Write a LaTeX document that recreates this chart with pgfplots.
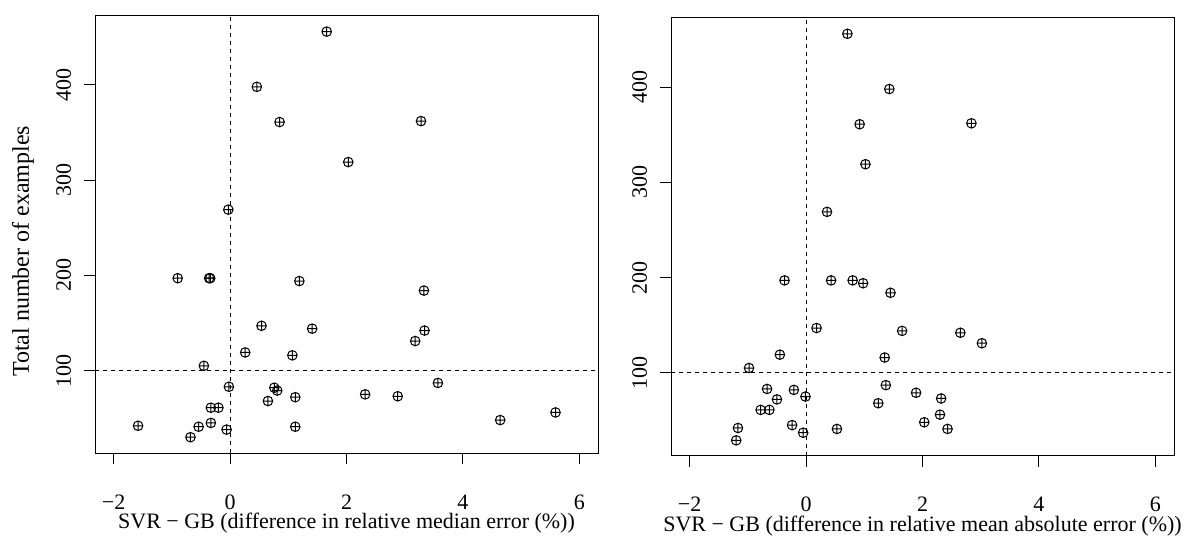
\documentclass[border=0pt]{standalone}
\usepackage{fontspec}
\setmainfont{Liberation Serif}
\usepackage{pgfplots}
\pgfplotsset{compat=1.18}
\pgfplotstableread{
x y
1.66 456
0.46 398
0.85 361
2.03 319
-0.03 269
3.28 362
-0.90 197
-0.36 197
-0.34 197
1.19 194
0.54 147
1.41 144
0.26 119
1.07 116
-0.45 105
-0.02 83
0.76 82
0.81 79
1.12 72
0.65 68
-0.33 61
-0.20 61
-1.58 42
-0.54 41
-0.33 45
1.12 41
-0.06 38
-0.68 30
3.33 184
3.34 142
3.18 131
3.57 87
2.32 75
2.88 73
5.59 56
4.64 48
}\leftdata
\pgfplotstableread{
x y
0.71 456
1.43 398
0.92 361
1.02 319
0.36 269
2.84 362
-0.37 197
0.43 197
0.80 197
0.98 194
1.45 184
0.18 147
1.65 144
-0.45 119
1.35 116
-0.98 105
-0.67 83
-0.21 82
1.37 87
1.89 79
-0.01 75
-0.50 72
1.24 68
-0.78 61
-0.63 61
-1.17 42
-0.24 45
0.53 41
-0.05 37
-1.20 29
2.03 48
2.65 142
3.02 131
2.32 73
2.30 56
2.43 41
}\rightdata
\pgfplotsset{myax/.style={
  scale only axis, width=251.5pt, height=219pt,
  xmin=-2.32, xmax=6.32, ymin=13, ymax=473,
  xtick={-2,0,2,4,6}, xticklabels={−2,0,2,4,6},
  ytick={100,200,300,400}, yticklabels={100,200,300,400},
  tick align=outside, major tick length=5.5pt,
  xtick pos=bottom, ytick pos=left,
  axis line style={line width=0.5pt, black},
  every tick/.style={black, line width=0.5pt},
  ticklabel style={font=\fontsize{11}{13}\selectfont},
  xticklabel style={anchor=base, yshift=-22.5pt},
  yticklabel style={rotate=90, anchor=base, yshift=6.6pt},
  xlabel style={at={(axis description cs:0.5,-0.16)}, anchor=center, font=\fontsize{11}{13}\selectfont},
}}
\tikzset{refline/.style={line width=0.5pt, black, dash pattern=on 2pt off 2pt},
  pt/.style={only marks, mark=oplus, mark size=2.4pt, black, mark options={line width=0.5pt}}}
\begin{document}
\begin{tikzpicture}[x=1pt,y=1pt]
\useasboundingbox (0,0) rectangle (592,271);
\begin{axis}[myax, at={(47.5pt,44.3pt)}, anchor=south west,
  xlabel={SVR − GB (difference in relative median error (\%))},
  ylabel={Total number of examples},
  ylabel style={at={(axis description cs:-0.143,0.4616)}, anchor=center, font=\fontsize{12}{14}\selectfont}]
\addplot[refline, forget plot] coordinates {(0,13) (0,473)};
\addplot[refline, forget plot] coordinates {(-2.32,100) (6.32,100)};
\addplot[pt] table[x=x,y=y] {\leftdata};
\end{axis}
\begin{axis}[myax, at={(335.5pt,43.2pt)}, anchor=south west,
  xlabel={SVR − GB (difference in relative mean absolute error (\%))}]
\addplot[refline, forget plot] coordinates {(0,13) (0,473)};
\addplot[refline, forget plot] coordinates {(-2.32,100) (6.32,100)};
\addplot[pt] table[x=x,y=y] {\rightdata};
\end{axis}
\end{tikzpicture}
\end{document}
